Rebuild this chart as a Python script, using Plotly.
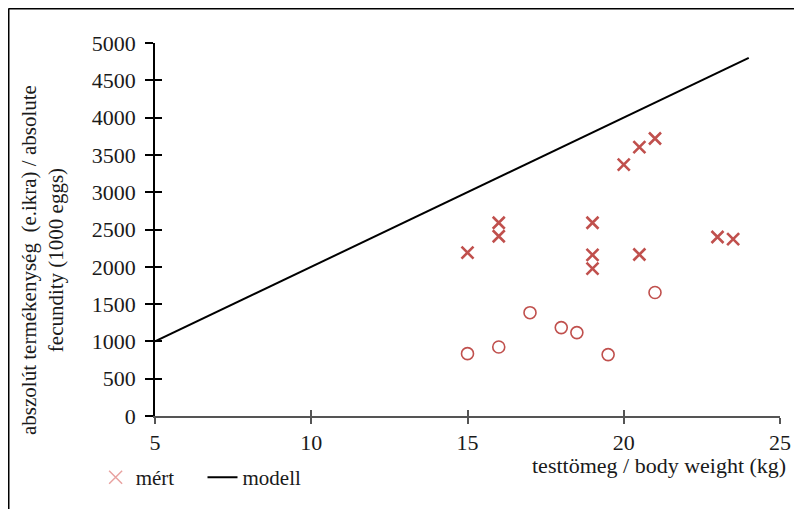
import plotly.graph_objects as go

# measured (mért) values
mert_x = [15, 16, 16, 19, 19, 19, 20, 20.5, 21, 20.5, 23, 23.5]
mert_y = [2190, 2590, 2410, 2590, 2160, 1975, 3370, 3605, 3720, 2165, 2400, 2370]

# second measured group (circles, not in legend)
kor_x = [15, 16, 17, 18, 18.5, 19.5, 21]
kor_y = [836, 925, 1385, 1185, 1118, 823, 1655]

# model line
modell_x = [5, 6, 7, 8, 9, 10, 11, 12, 13, 14, 15, 16, 17, 18, 19, 20, 21, 22, 23, 24]
modell_y = [1000, 1200, 1400, 1600, 1800, 2000, 2200, 2400, 2600, 2800, 3000, 3200,
            3400, 3600, 3800, 4000, 4200, 4400, 4600, 4800]

x_ticks = [5, 10, 15, 20, 25]
y_ticks = [0, 500, 1000, 1500, 2000, 2500, 3000, 3500, 4000, 4500, 5000]

FONT = "Liberation Serif"
TXT = "#1a1a1a"
RED = "#C0504D"
TICKFONT = dict(family=FONT, size=22, color=TXT)

fig = go.Figure()
fig.add_trace(go.Scatter(x=modell_x, y=modell_y, mode="lines", name="modell",
                         line=dict(color="black", width=2), showlegend=False))
fig.add_trace(go.Scatter(x=kor_x, y=kor_y, mode="markers", showlegend=False,
                         marker=dict(symbol="circle-open", size=12, color=RED,
                                     line=dict(width=1.6, color=RED))))
fig.add_trace(go.Scatter(x=mert_x, y=mert_y, mode="markers", showlegend=False,
                         marker=dict(symbol="x-thin-open", size=12, color=RED,
                                     line=dict(width=2.6, color=RED))))
# legend entries
fig.add_trace(go.Scatter(x=[None], y=[None], mode="markers", name="mért", legend="legend",
                         marker=dict(symbol="x-thin-open", size=13, color="#E8A2A0",
                                     line=dict(width=1.5, color="#E8A2A0"))))
fig.add_trace(go.Scatter(x=[None], y=[None], mode="lines", name="modell", legend="legend2",
                         line=dict(color="black", width=2)))
# helper trace for cross-ticks axes
fig.add_trace(go.Scatter(x=[5], y=[0], mode="markers", xaxis="x2", yaxis="y2",
                         marker=dict(opacity=0), showlegend=False, hoverinfo="skip"))

LEG = dict(orientation="h", y=-0.165, xanchor="left", yanchor="middle",
           font=dict(family=FONT, size=21, color=TXT), bgcolor="rgba(0,0,0,0)",
           itemwidth=30, tracegroupgap=0)

fig.update_layout(
    width=794, height=501,
    margin=dict(l=147, r=22, t=35, b=93, autoexpand=False),
    paper_bgcolor="white", plot_bgcolor="white",
    font=dict(family=FONT, size=22, color=TXT),
    showlegend=True,
    legend=dict(LEG, x=-0.095),
    legend2=dict(LEG, x=0.076),
    xaxis=dict(range=[5, 25], tickvals=x_ticks, showgrid=False, zeroline=False,
               showline=True, linecolor="#555555", linewidth=1.5, automargin=False,
               ticks="outside", ticklen=6, tickwidth=1.5, tickcolor="#555555",
               ticklabelstandoff=0, tickfont=TICKFONT),
    yaxis=dict(range=[0, 5000], tickvals=y_ticks, showgrid=False, zeroline=False,
               showline=True, linecolor="black", linewidth=1.5, automargin=False,
               ticks="outside", ticklen=8, tickwidth=1.5, tickcolor="black",
               ticklabelstandoff=5, tickfont=TICKFONT),
    xaxis2=dict(range=[5, 25], tickvals=x_ticks, overlaying="x", showgrid=False,
                zeroline=False, showline=False, showticklabels=False, automargin=False,
                ticks="inside", ticklen=6, tickwidth=1.5, tickcolor="#555555", side="bottom"),
    yaxis2=dict(range=[0, 5000], tickvals=y_ticks, overlaying="y", showgrid=False,
                zeroline=False, showline=False, showticklabels=False, automargin=False,
                ticks="inside", ticklen=7, tickwidth=1.5, tickcolor="black", side="left"),
)

fig.add_annotation(text="abszolút termékenység  (e.ikra) / absolute<br>fecundity (1000 eggs)",
                   xref="paper", yref="paper", x=-0.181, y=0.418, textangle=-90,
                   showarrow=False, xanchor="center", yanchor="middle",
                   font=dict(family=FONT, size=21, color=TXT))
fig.add_annotation(text="testtömeg / body weight (kg)", xref="paper", yref="paper",
                   x=1.013, y=-0.133, xanchor="right", yanchor="middle", showarrow=False,
                   font=dict(family=FONT, size=22, color=TXT))

# outer frame (left and top edges visible in the crop)
fig.add_shape(type="line", xref="paper", yref="paper", x0=-0.2344, x1=1.1, y0=1.0926, y1=1.0926,
              line=dict(color="black", width=2))
fig.add_shape(type="line", xref="paper", yref="paper", x0=-0.2344, x1=-0.2344, y0=-0.27, y1=1.0926,
              line=dict(color="black", width=2))

fig.write_html("out.html")
